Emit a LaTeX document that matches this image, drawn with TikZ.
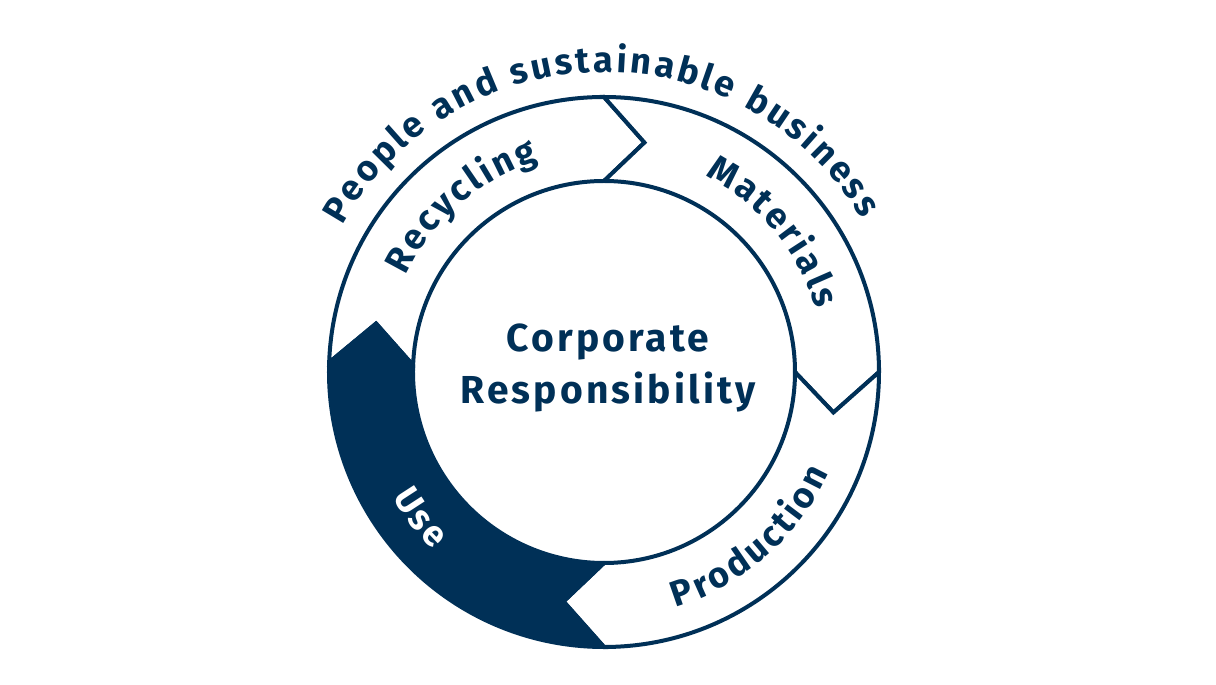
\documentclass[tikz,border=0pt]{standalone}
\usepackage{fontspec}
\setmainfont{Fira Sans}
\newfontfamily\trackedfont{Fira Sans}[LetterSpace=8]
\usetikzlibrary{decorations.text}
\definecolor{navy}{HTML}{003057}
\newcommand{\lblfont}{\fontsize{36}{36}\selectfont\bfseries\kern3pt}
\newcommand{\outfont}{\fontsize{36}{36}\selectfont\bfseries\kern3pt}
\tikzset{
  seg/.style={draw=navy, line width=4pt, line join=miter, fill=white},
  segdark/.style={seg, fill=navy},
  centertext/.style={font=\trackedfont\fontsize{39}{39}\selectfont\bfseries, text=navy, inner sep=0pt, anchor=base},
  arctext/.style={decorate, decoration={text along path, text align=center, text={#1}}}
}
\begin{document}
\begin{tikzpicture}[x=1pt,y=1pt]
\useasboundingbox[fill=white] (-604,-313) rectangle (612,372);
% Recycling
\path[seg] (178:275pt) arc[start angle=178,end angle=90,radius=275pt] -- (80:233pt) -- (90:191pt) arc[start angle=90,end angle=178,radius=191pt] -- (168:233pt) -- cycle;
% Materials
\path[seg] (90:275pt) arc[start angle=90,end angle=0,radius=275pt] -- (-10:233pt) -- (0:191pt) arc[start angle=0,end angle=90,radius=191pt] -- (80:233pt) -- cycle;
% Production
\path[seg] (0:275pt) arc[start angle=0,end angle=-90,radius=275pt] -- (-100:233pt) -- (-90:191pt) arc[start angle=-90,end angle=0,radius=191pt] -- (-10:233pt) -- cycle;
% Use
\path[segdark] (270:275pt) arc[start angle=270,end angle=178,radius=275pt] -- (168:233pt) -- (178:191pt) arc[start angle=178,end angle=270,radius=191pt] -- (260:233pt) -- cycle;
% ring labels
\path[arctext={|\lblfont\color{navy}|Recycling}] (171:221pt) arc[start angle=171,end angle=91,radius=221pt];
\path[arctext={|\lblfont\color{navy}|Materials}] (85:221pt) arc[start angle=85,end angle=-5,radius=221pt];
\path[arctext={|\lblfont\color{navy}|Production}] (-94:246pt) arc[start angle=-94,end angle=-4,radius=246pt];
\path[arctext={|\lblfont\color{white}|Use}] (188:246pt) arc[start angle=188,end angle=248,radius=246pt];
% outer label
\path[arctext={|\outfont\color{navy}|People and sustainable business}] (176:300pt) arc[start angle=176,end angle=6,radius=300pt];
% centre
\node[centertext] (corp) at (4,20) {Corporate};
\node[centertext] (resp) at (4,-32) {Responsibility};
\end{tikzpicture}
\end{document}
